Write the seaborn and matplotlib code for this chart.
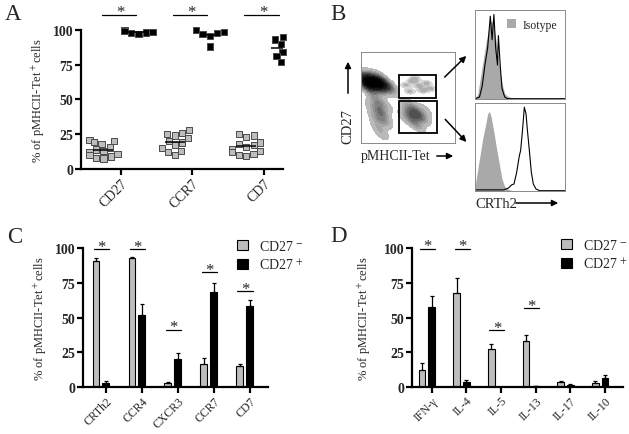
import numpy as np
import pandas as pd
import matplotlib
matplotlib.use("Agg")
import matplotlib.pyplot as plt
import seaborn as sns
from matplotlib.patches import Rectangle, FancyArrowPatch
from matplotlib.colors import LinearSegmentedColormap

# ---------------- data ----------------
# A: % positive per donor, CD27- (gray) and CD27+ (black)
a_markers = ["CD27", "CCR7", "CD7"]
a_cd27_neg = [21, 20, 19.5, 18, 15.5, 14, 13, 12, 11, 10, 9, 8, 7.5]
a_cd27_pos = [99.5, 99, 98.5, 98, 97.5, 97]
a_ccr7_neg = [28, 26, 25, 24, 22, 20, 19, 17, 15, 13, 12, 10]
a_ccr7_pos = [100, 98.6, 97.6, 97.1, 95.7, 88]
a_cd7_neg = [25, 24, 23, 19, 18, 17, 16, 14, 13, 12, 11, 10, 9.5]
a_cd7_pos = [95, 93, 90, 84, 81, 77]

# B: flow cytometry (channel units 0-100)
b_dot_x = [3, 8, 13, 18, 23, 28, 32, 6, 14, 22, 10, 18,
           14, 18, 20, 22, 17, 24, 19, 22, 12, 26,
           52, 58, 64, 57, 56, 48, 68, 60, 50]
b_dot_y = [66, 67, 67, 66, 65, 63, 62, 71, 71, 70, 62, 61,
           52, 45, 38, 32, 28, 25, 18, 10, 40, 42,
           32, 31, 30, 38, 24, 28, 36, 20, 40]
b_dot_w = [6, 8, 8, 8, 6, 3, 1.5, 4, 4, 3, 4, 3,
           1.5, 2, 2.5, 2.5, 2, 2, 1.5, 1, 1, 1.2,
           3, 4, 3, 2.5, 2, 1.2, 1.2, 1.2, 1.2]
# sparse population inside the upper gate
b_sparse_x = [48, 55, 62, 70, 52, 66, 58, 74]
b_sparse_y = [64, 68, 63, 66, 57, 58, 71, 60]
b_gate_hi = (40.6, 49.5, 39.4, 25.5)   # x, y, w, h
b_gate_lo = (40.6, 11.3, 40.0, 35.5)

b_top_iso_ch = [0, 3, 6, 9, 12, 15, 18, 21, 24, 27, 30, 33, 36, 40, 45, 50, 100]
b_top_iso_val = [0, 5, 25, 45, 65, 82, 93, 85, 65, 40, 18, 6, 3, 1.5, 0.5, 0, 0]
b_top_ab_ch = [0, 5, 8, 11, 14, 16, 17, 19, 21, 23, 25, 26, 28, 30, 33, 36, 100]
b_top_ab_val = [0, 2, 15, 40, 60, 85, 98, 70, 100, 60, 40, 75, 40, 12, 2, 0, 0]

b_bot_iso_ch = [0, 3, 6, 9, 12, 14, 16, 18, 21, 24, 27, 30, 33, 36, 40, 45, 100]
b_bot_iso_val = [5, 25, 45, 65, 80, 92, 95, 88, 70, 50, 32, 14, 5, 2, 0.5, 0, 0]
b_bot_ab_ch = [0, 31.5, 37, 40.7, 43.3, 46.3, 49.3, 50.7, 53, 54.8, 56.7, 58, 60.4, 62.6, 64.8, 67.8, 72, 100]
b_bot_ab_val = [1, 1, 3, 7, 8, 22, 42, 48, 75, 100, 92, 75, 48, 22, 8, 2, 0, 0]

# C: surface markers, mean and SEM
c_markers = ["CRTh2", "CCR4", "CXCR3", "CCR7", "CD7"]
c_neg_mean = [91, 92.8, 2.6, 16.6, 15]
c_neg_sem = [2, 0.9, 0.8, 4.1, 1.1]
c_pos_mean = [2.6, 51.8, 19.8, 68.2, 58.3]
c_pos_sem = [1.3, 8, 4.3, 6.8, 4.4]
c_star_idx = [0, 1, 2, 3, 4]
c_star_y = [99.3, 99.3, 41.2, 82.6, 68.9]

# D: cytokines, mean and SEM
d_cytokines = ["IFN-γ", "IL-4", "IL-5", "IL-13", "IL-17", "IL-10"]
d_neg_mean = [12, 67.7, 27, 32.8, 3.1, 2.7]
d_neg_sem = [5, 10.9, 3.6, 4.8, 1.2, 1.6]
d_pos_mean = [57.3, 3.1, 0, 0.4, 1.4, 6]
d_pos_sem = [8.5, 1.7, 0, 0.3, 0.8, 2.4]
d_star_idx = [0, 1, 2, 3]
d_star_y = [99.8, 99.8, 41, 56.6]

subsets = ["CD27-", "CD27+"]
gray = "#bdbdbd"
pal = {"CD27-": gray, "CD27+": "black"}
ylab = r"% of pMHCII-Tet$^+$cells"

# ---------------- style ----------------
sns.set_theme(style="ticks")
plt.rcParams["font.family"] = ["Liberation Serif", "DejaVu Serif"]
plt.rcParams["mathtext.fontset"] = "stix"

W, H = 629, 435
fig = plt.figure(figsize=(W / 100, H / 100), dpi=100)


def px_box(left, top, right, bottom):
    return [left / W, 1 - bottom / H, (right - left) / W, (bottom - top) / H]


def fx(x):
    return x / W


def fy(y):
    return 1 - y / H


def style_axis(ax, xlabsize):
    sns.despine(ax=ax)
    for s in ["left", "bottom"]:
        ax.spines[s].set_linewidth(1.6)
        ax.spines[s].set_color("black")
    ax.tick_params(axis="both", width=1.6, length=4, color="black", pad=1.5)
    ax.tick_params(axis="x", labelsize=xlabsize)
    ax.set_ylim(0, 100)
    ax.set_yticks([0, 25, 50, 75, 100])
    ax.set_yticklabels(["0", "25", "50", "75", "100"], fontsize=10, fontweight="bold")
    ax.set_xlabel("")


def star(ax, x0, x1, y, xs, drop, size):
    ax.plot([x0, x1], [y, y], color="black", lw=0.9, clip_on=False)
    ax.text(xs, y - drop, "*", ha="center", va="baseline", fontsize=size, clip_on=False)


# ---------------- panel A ----------------
ax_a = fig.add_axes(px_box(81, 30.7, 283, 170))
rows = []
for i, (neg, pos) in enumerate(zip([a_cd27_neg, a_ccr7_neg, a_cd7_neg],
                                   [a_cd27_pos, a_ccr7_pos, a_cd7_pos])):
    rows += [(i - 0.245, "CD27-", v) for v in neg]
    rows += [(i + 0.245, "CD27+", v) for v in pos]
df_a = pd.DataFrame(rows, columns=["pos", "subset", "value"])

sns.swarmplot(data=df_a, x="pos", y="value", hue="subset", hue_order=subsets,
              palette=pal, native_scale=True, orient="x", marker="s", size=4.5,
              linewidth=0.7, edgecolor="#4a4a4a", legend=False, ax=ax_a)
for c in ax_a.collections:
    c.set_clip_on(False)
means = df_a.groupby("pos")["value"].mean()
ax_a.hlines(means.values, means.index - 0.14, means.index + 0.14,
            color="black", lw=1.1, zorder=4)
style_axis(ax_a, 10)
ax_a.set_xlim(-0.56, 2.27)
ax_a.set_xticks(range(len(a_markers)))
ax_a.set_xticklabels(a_markers, rotation=45, ha="right", rotation_mode="anchor")
ax_a.set_ylabel(ylab, fontsize=9)
ax_a.yaxis.set_label_coords(-0.168, 0.5)
for i in range(len(a_markers)):
    star(ax_a, i - 0.27, i + 0.21, 110.5, i - 0.01, 1.0, 12)


# ---------------- panel C / D ----------------
def bar_panel(ax, names, neg_m, neg_e, pos_m, pos_e, star_idx, star_y, xlim, lab_x):
    n = len(names)
    df = pd.DataFrame({"name": names * 2,
                       "subset": ["CD27-"] * n + ["CD27+"] * n,
                       "value": neg_m + pos_m})
    sns.barplot(data=df, x="name", y="value", hue="subset", order=names,
                hue_order=subsets, palette=pal, width=0.55, gap=0.31,
                errorbar=None, edgecolor="black", linewidth=0.8, legend=False, ax=ax)
    for cont, err in zip(ax.containers, [neg_e, pos_e]):
        xs = [b.get_x() + b.get_width() / 2 for b in cont]
        hs = [b.get_height() for b in cont]
        ax.errorbar(xs, hs, yerr=[np.zeros(n), err], fmt="none", ecolor="black",
                    elinewidth=0.9, capsize=1.5, capthick=0.9, zorder=3)
    style_axis(ax, 8.5)
    ax.set_xlim(*xlim)
    ax.set_xticks(np.arange(n) + 0.14)
    ax.set_xticklabels(names, rotation=45, ha="right", rotation_mode="anchor")
    ax.set_ylabel(ylab, fontsize=9)
    ax.yaxis.set_label_coords(lab_x, 0.5)
    for i, y in zip(star_idx, star_y):
        star(ax, i - 0.2, i + 0.23, y, i + 0.02, 1.2, 12)
    handles = [Rectangle((0, 0), 1, 1, facecolor=gray, edgecolor="black", lw=0.8),
               Rectangle((0, 0), 1, 1, facecolor="black", edgecolor="black", lw=0.8)]
    return handles


ax_c = fig.add_axes(px_box(83, 249.3, 268, 387.7))
h = bar_panel(ax_c, c_markers, c_neg_mean, c_neg_sem, c_pos_mean, c_pos_sem,
              c_star_idx, c_star_y, (-0.5, 4.65), -0.182)
ax_c.legend(h, [r"CD27 $^{-}$", r"CD27 $^{+}$"], loc="upper left",
            bbox_to_anchor=(fx(237), fy(240)), bbox_transform=fig.transFigure,
            frameon=False, fontsize=10, handlelength=0.8, handleheight=0.8,
            handletextpad=0.8, labelspacing=0.3, borderpad=0, borderaxespad=0)

ax_d = fig.add_axes(px_box(412, 249.3, 623, 387.7))
h = bar_panel(ax_d, d_cytokines, d_neg_mean, d_neg_sem, d_pos_mean, d_pos_sem,
              d_star_idx, d_star_y, (-0.43, 5.66), -0.183)
ax_d.legend(h, [r"CD27 $^{-}$", r"CD27 $^{+}$"], loc="upper left",
            bbox_to_anchor=(fx(561), fy(239)), bbox_transform=fig.transFigure,
            frameon=False, fontsize=10, handlelength=0.8, handleheight=0.8,
            handletextpad=0.8, labelspacing=0.3, borderpad=0, borderaxespad=0)


# ---------------- panel B ----------------
def flow_frame(ax):
    ax.set_xlim(0, 100)
    ax.set_xticks([])
    ax.set_yticks([])
    ax.set_xlabel("")
    ax.set_ylabel("")
    for s in ax.spines.values():
        s.set_visible(True)
        s.set_color("#8a8a8a")
        s.set_linewidth(0.7)


ax_dot = fig.add_axes(px_box(360.7, 53.3, 455, 144.3))
sns.kdeplot(x=b_sparse_x, y=b_sparse_y, fill=True,
            cmap=LinearSegmentedColormap.from_list("sparse", ["#e2e2e2", "#a0a0a0"]),
            levels=4, thresh=0.15, bw_adjust=0.6, ax=ax_dot)
dot_cmap = LinearSegmentedColormap.from_list(
    "dots", ["#c4c4c4", "#5a5a5a", "#1a1a1a", "#000000", "#000000"])
sns.kdeplot(x=b_dot_x, y=b_dot_y, weights=b_dot_w, fill=True, cmap=dot_cmap,
            levels=12, thresh=0.03, bw_adjust=0.5, ax=ax_dot)
flow_frame(ax_dot)
ax_dot.set_ylim(0, 100)
for g in [b_gate_hi, b_gate_lo]:
    ax_dot.add_patch(Rectangle(g[:2], g[2], g[3], fill=False, edgecolor="black", lw=1.3))

ax_top = fig.add_axes(px_box(475, 11.3, 565, 99.7))
ax_top.fill_between(b_top_iso_ch, b_top_iso_val, color="#a9a9a9", lw=0)
sns.lineplot(x=b_top_ab_ch, y=b_top_ab_val, color="black", lw=0.8, ax=ax_top)
flow_frame(ax_top)
ax_top.set_ylim(0, 105)
ax_top.legend([Rectangle((0, 0), 1, 1, facecolor="#a9a9a9", lw=0)], ["Isotype"],
              loc="upper right", frameon=False, fontsize=8.5, handlelength=0.8,
              handleheight=0.8, handletextpad=0.5, borderaxespad=0.3)

ax_bot = fig.add_axes(px_box(475, 104, 565, 191.7))
ax_bot.fill_between(b_bot_iso_ch, b_bot_iso_val, color="#a9a9a9", lw=0)
sns.lineplot(x=b_bot_ab_ch, y=b_bot_ab_val, color="black", lw=0.8, ax=ax_bot)
flow_frame(ax_bot)
ax_bot.set_ylim(0, 105)


def arrow(x0, y0, x1, y1):
    fig.add_artist(FancyArrowPatch((fx(x0), fy(y0)), (fx(x1), fy(y1)),
                                   transform=fig.transFigure, arrowstyle="-|>",
                                   mutation_scale=9, lw=1.1, color="black"))


arrow(442.7, 80, 468.3, 55)
arrow(443.3, 118.3, 468.3, 145)
arrow(348, 97, 348, 60)
arrow(434, 157, 456, 157)
arrow(513, 204, 561, 204)
fig.text(fx(348), fy(127), "CD27", rotation=90, ha="center", va="center", fontsize=10.5)
fig.text(fx(361), fy(157), "pMHCII-Tet", ha="left", va="center", fontsize=10)
fig.text(fx(475), fy(204), "CRTh2", ha="left", va="center", fontsize=10.5)

# panel letters
for lab, x, y in [("A", 5, 20), ("B", 330, 20), ("C", 6.7, 243), ("D", 330, 242)]:
    fig.text(fx(x), fy(y), lab, fontsize=16.5, va="baseline", ha="left")

fig.savefig("out.png", dpi=100)
